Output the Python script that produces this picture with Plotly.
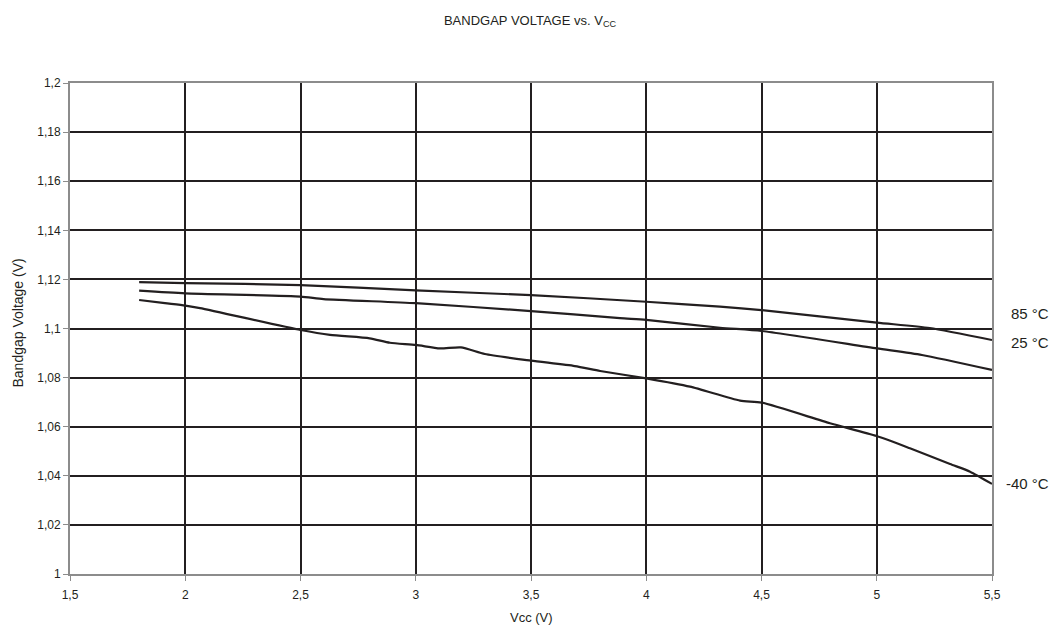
import plotly.graph_objects as go

# Data
vcc_85 = [1.8, 2.0, 2.5, 3.0, 3.5, 4.0, 4.32, 4.5, 5.0, 5.23, 5.5]
bg_85 = [1.1189, 1.1185, 1.1177, 1.1155, 1.1136, 1.1109, 1.1089, 1.1075, 1.1024, 1.1002, 1.0953]

vcc_25 = [1.8, 2.0, 2.5, 2.6, 3.0, 3.5, 3.886, 4.0, 4.32, 4.5, 5.0, 5.196, 5.5]
bg_25 = [1.1154, 1.1143, 1.1130, 1.1120, 1.1103, 1.1071, 1.1042, 1.1035, 1.1003, 1.0990, 1.0919, 1.0892, 1.0831]

vcc_m40 = [1.8, 1.912, 2.0, 2.064, 2.5, 2.628, 2.80, 2.888, 3.0, 3.105, 3.196, 3.30,
           3.5, 3.69, 3.80, 4.0, 4.19, 4.407, 4.5, 4.797, 5.0, 5.144, 5.318, 5.405, 5.5]
bg_m40 = [1.1116, 1.1103, 1.1093, 1.1083, 1.0994, 1.0974, 1.0960, 1.0942, 1.0933, 1.0919, 1.0923, 1.0896,
          1.0869, 1.0847, 1.0827, 1.0797, 1.0763, 1.0706, 1.0698, 1.0614, 1.0562, 1.0512, 1.0448, 1.0417, 1.0367]

series_names = ["85 °C", "25 °C", "-40 °C"]
label_y = [1.1063, 1.0941, 1.0367]

x_ticks = [1.5, 2, 2.5, 3, 3.5, 4, 4.5, 5, 5.5]
x_ticktext = ["1,5", "2", "2,5", "3", "3,5", "4", "4,5", "5", "5,5"]
y_ticks = [1.0, 1.02, 1.04, 1.06, 1.08, 1.1, 1.12, 1.14, 1.16, 1.18, 1.2]
y_ticktext = ["1", "1,02", "1,04", "1,06", "1,08", "1,1", "1,12", "1,14", "1,16", "1,18", "1,2"]

line_color = "#231f20"
text_color = "#231f20"
font_family = "Liberation Sans, Arial, sans-serif"

fig = go.Figure()
for xs, ys, name in [(vcc_85, bg_85, series_names[0]),
                     (vcc_25, bg_25, series_names[1]),
                     (vcc_m40, bg_m40, series_names[2])]:
    fig.add_trace(go.Scatter(x=xs, y=ys, mode="lines", name=name,
                             line=dict(color=line_color, width=2.2, shape="spline", smoothing=0.6),
                             showlegend=False, hoverinfo="x+y"))

for name, yv in zip(series_names, label_y):
    fig.add_annotation(x=5.5, y=yv, xref="x", yref="y", text=name, showarrow=False,
                       xanchor="right", xshift=59, font=dict(size=15, color=text_color, family=font_family))

# axis titles as annotations for precise placement
fig.add_annotation(x=0, y=0.5, xref="paper", yref="paper", text="Bandgap Voltage (V)",
                   textangle=-90, showarrow=False, xanchor="center", yanchor="middle",
                   xshift=-53, yshift=5, font=dict(size=14, color=text_color, family=font_family))
fig.add_annotation(x=0.5, y=0, xref="paper", yref="paper", text="Vcc (V)",
                   showarrow=False, xanchor="center", yanchor="middle",
                   yshift=-43, font=dict(size=13, color=text_color, family=font_family))

fig.update_layout(
    width=1044, height=618,
    margin=dict(l=62, r=60, t=75, b=52),
    paper_bgcolor="white", plot_bgcolor="white",
    font=dict(family=font_family, size=12, color=text_color),
    title=dict(text="BANDGAP VOLTAGE vs. V<sub>CC</sub>", x=0.5, xref="container", xanchor="center",
               y=0.9806, yanchor="middle",
               font=dict(size=13, family=font_family, color=text_color)),
)
fig.update_xaxes(range=[1.5, 5.5], tickvals=x_ticks, ticktext=x_ticktext,
                 showgrid=True, gridcolor=line_color, gridwidth=2,
                 showline=True, linecolor="#8c8c8c", linewidth=2, mirror=True,
                 ticks="outside", ticklen=5, tickcolor="#8c8c8c", tickwidth=1,
                 tickfont=dict(size=12), ticklabelstandoff=4,
                 zeroline=False, fixedrange=True)
fig.update_yaxes(range=[1.0, 1.2], tickvals=y_ticks, ticktext=y_ticktext,
                 showgrid=True, gridcolor=line_color, gridwidth=2,
                 showline=True, linecolor="#8c8c8c", linewidth=2, mirror=True,
                 ticks="outside", ticklen=5, tickcolor="#8c8c8c", tickwidth=1,
                 tickfont=dict(size=12),
                 zeroline=False, fixedrange=True)

fig.write_html("out.html")
